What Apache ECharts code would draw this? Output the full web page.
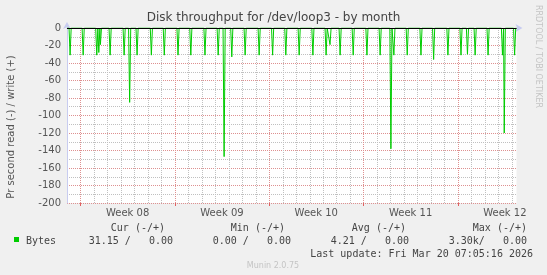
<!DOCTYPE html>
<html><head><meta charset="utf-8">
<script src="https://cdn.jsdelivr.net/npm/echarts@6/dist/echarts.min.js"></script>
<style>html,body{margin:0;padding:0;background:#f0f0f0}#c{width:547px;height:275px}</style>
</head><body><div id="c"></div>
<script>
const titleText = 'Disk throughput for /dev/loop3 - by month';
const yAxisName = 'Pr second read (-) / write (+)';
const weekLabels = ['Week 08', 'Week 09', 'Week 10', 'Week 11', 'Week 12'];
const weekMidDays = [4.5, 11.5, 18.5, 25.5, 32.5];
const mondayDays = [1, 8, 15, 22, 29];
// read spikes: day offset from start of plot, value (negative = read)
const readDays = [0.23, 1.20, 2.21, 2.36, 2.48, 3.20, 4.24, 4.65, 5.20, 6.26, 7.22, 8.24, 9.19, 10.24, 11.22, 11.66, 12.23, 13.22, 14.26, 15.26, 16.24, 17.23, 18.25, 19.23, 19.52, 20.27, 21.24, 22.26, 23.24, 24.04, 24.26, 25.25, 26.27, 27.21, 28.27, 29.24, 29.72, 30.29, 31.25, 32.32, 32.45, 33.22];
const readValues = [-31, -31, -31, -28, -19, -31, -31, -85, -31, -31, -31, -31, -31, -31, -31, -147, -33, -31, -31, -31, -31, -31, -31, -31, -19, -31, -31, -31, -31, -138, -31, -31, -31, -36, -31, -31, -30, -31, -31, -31, -120, -31];
const yTicks = [0, -20, -40, -60, -80, -100, -120, -140, -160, -180, -200];
const legendHeaders = ['Cur (-/+)', 'Min (-/+)', 'Avg (-/+)', 'Max (-/+)'];
const legendValues = ['31.15 /   0.00', '0.00 /   0.00', '4.21 /   0.00', '3.30k/   0.00'];
const seriesName = 'Bytes';
const lastUpdate = 'Last update: Fri Mar 20 07:05:16 2026';
const footer = 'Munin 2.0.75';
const watermark = 'RRDTOOL / TOBI OETIKER';

const X_MAX = 33.36, Y_MIN = -200, Y_MAX = 0;
const data = [[0, 0]];
readDays.forEach((d, i) => {
  data.push([d - 0.08, 0], [d, readValues[i]], [d + 0.08, 0]);
});
data.push([X_MAX, 0]);

const RED = '#de9090', GRAY = '#c0c0c0';
const gridDays = [];
for (let d = 1; d < X_MAX; d++) gridDays.push([d, mondayDays.includes(d) ? 1 : 0]);

const chart = echarts.init(document.getElementById('c'), null, {renderer: 'canvas'});
const legendHeaderRight = [165, 285, 406, 527];
const legendValueRight = [173, 291, 409, 527];
const graphics = [
  {type: 'text', left: 'center', top: 12, style: {text: titleText, font: '12px "DejaVu Sans"', fill: '#444'}},
  {type: 'text', x: 11, y: 127, rotation: Math.PI / 2, style: {text: yAxisName, font: '10px "DejaVu Sans"', fill: '#555', align: 'center', verticalAlign: 'middle'}},
  {type: 'text', x: 538, y: 5, rotation: -Math.PI / 2, style: {text: watermark, font: '8px "DejaVu Sans"', fill: '#c4c4c4', align: 'left', verticalAlign: 'middle'}},
  {type: 'rect', shape: {x: 14, y: 237, width: 5, height: 5}, style: {fill: '#00cc00'}},
  {type: 'text', x: 26, y: 241.5, style: {text: seriesName, font: '10px "DejaVu Sans Mono"', fill: '#444', verticalAlign: 'middle'}},
  {type: 'text', x: 533, y: 254, style: {text: lastUpdate, font: '10px "DejaVu Sans Mono"', fill: '#444', align: 'right', verticalAlign: 'middle'}},
  {type: 'text', x: 273, y: 266, style: {text: footer, font: '8px "DejaVu Sans"', fill: '#c4c4c4', align: 'center', verticalAlign: 'middle'}}
];
legendHeaders.forEach((h, i) => graphics.push({type: 'text', x: legendHeaderRight[i], y: 228.5, style: {text: h, font: '10px "DejaVu Sans Mono"', fill: '#444', align: 'right', verticalAlign: 'middle'}}));
legendValues.forEach((h, i) => graphics.push({type: 'text', x: legendValueRight[i], y: 241.5, style: {text: h, font: '10px "DejaVu Sans Mono"', fill: '#444', align: 'right', verticalAlign: 'middle'}}));

chart.setOption({
  backgroundColor: '#f0f0f0',
  animation: false,
  grid: {left: 67, right: 30.5, top: 28, bottom: 72, show: true, backgroundColor: '#ffffff', borderWidth: 0},
  xAxis: {
    type: 'value', min: 0, max: X_MAX, interval: 0.5,
    axisLine: {show: true, lineStyle: {color: '#c8ccf0', width: 1}, symbol: ['none', 'arrow'], symbolSize: [6, 7], symbolOffset: [0, 6]},
    axisTick: {show: false},
    axisLabel: {
      margin: 5, color: '#555', fontFamily: 'DejaVu Sans', fontSize: 10, showMinLabel: false, showMaxLabel: false,
      formatter: v => { const i = weekMidDays.findIndex(m => Math.abs(m - v) < 1e-6); return i >= 0 ? weekLabels[i] : ''; }
    },
    splitLine: {show: false}
  },
  yAxis: {
    type: 'value', min: Y_MIN, max: Y_MAX, interval: 20,
    axisLine: {show: true, lineStyle: {color: '#c8ccf0', width: 1}, symbol: ['none', 'arrow'], symbolSize: [6, 7], symbolOffset: [0, 6]},
    axisTick: {show: false},
    axisLabel: {margin: 6, color: '#555', fontFamily: 'DejaVu Sans', fontSize: 10, formatter: v => yTicks.includes(v) ? String(v) : ''},
    splitLine: {show: true, lineStyle: {color: RED, type: [1, 1], width: 1}},
    minorTick: {show: false, splitNumber: 2},
    minorSplitLine: {show: true, lineStyle: {color: GRAY, type: [1, 1], width: 1}}
  },
  graphic: graphics,
  series: [
    {
      name: 'vgrid', type: 'custom', data: gridDays, silent: true, z: 1, clip: false,
      renderItem: (params, api) => {
        const d = api.value(0), major = api.value(1) === 1;
        const top = api.coord([d, Y_MAX]), bot = api.coord([d, Y_MIN]);
        const x = Math.round(top[0]);
        const children = [];
        for (let y = Math.round(top[1]); y < bot[1]; y += 2) {
          children.push({type: 'rect', shape: {x: x, y: y, width: 1, height: 1}, style: {fill: major ? RED : GRAY}});
        }
        if (major) children.push({type: 'rect', shape: {x: x, y: Math.round(bot[1]), width: 1, height: 3}, style: {fill: '#e06060'}});
        return {type: 'group', children: children};
      }
    },
    {
      name: seriesName, type: 'line', data: data, showSymbol: false, symbol: 'none',
      lineStyle: {color: '#00cc00', width: 1}, z: 3,
      markLine: {silent: true, symbol: 'none', label: {show: false}, lineStyle: {color: '#000000', width: 1, type: 'solid'}, data: [{yAxis: 0}], z: 5}
    }
  ]
});
</script></body></html>
